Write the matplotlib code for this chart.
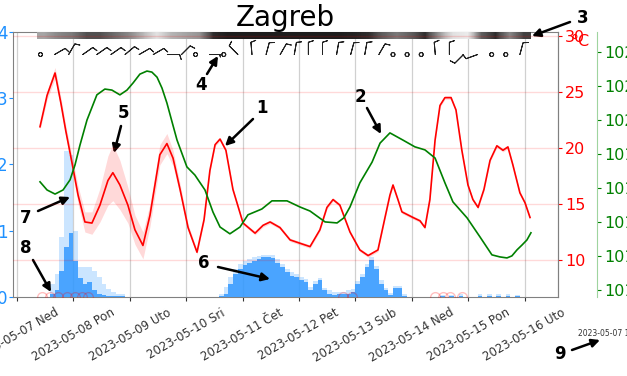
import numpy as np
import matplotlib
matplotlib.use("Agg")
import matplotlib.pyplot as plt
import matplotlib.dates as mdates

# all times are hours after 2023-05-07 00:00
START = mdates.date2num(np.datetime64("2023-05-07T00:00"))

day_labels = ["2023-05-07 Ned", "2023-05-08 Pon", "2023-05-09 Uto", "2023-05-10 Sri",
              "2023-05-11 Čet", "2023-05-12 Pet", "2023-05-13 Sub", "2023-05-14 Ned",
              "2023-05-15 Pon", "2023-05-16 Uto"]

temp_hours = [9.8, 12.8, 16.2, 18.7, 20.8, 23.4, 26.0, 28.9, 31.9, 35.3, 38.7, 40.8, 43.8,
              47.2, 50.2, 53.6, 56.6, 58.7, 60.8, 63.8, 66.4, 69.4, 72.8, 76.6, 79.6, 82.1,
              84.3, 86.4, 88.9, 91.9, 96.2, 101.3, 104.7, 107.7, 111.9, 116.2, 120.4, 124.7,
              128.9, 131.9, 134.5, 137.4, 141.7, 145.9, 149.4, 153.6, 156.6, 158.7, 160.0,
              162.1, 163.8, 168.5, 171.5, 173.6, 175.7, 177.9, 180.0, 182.1, 184.7, 186.8,
              189.3, 191.9, 194.0, 196.2, 198.7, 201.3, 204.2, 206.8, 208.9, 211.0, 214.0,
              216.2, 218.3]
temp_values = [21.9, 24.7, 26.7, 24.0, 21.5, 18.7, 15.8, 13.4, 13.3, 14.9, 17.1, 17.8, 16.7,
               14.9, 12.7, 11.3, 14.0, 16.7, 19.4, 20.4, 19.1, 16.3, 12.9, 10.7, 13.6, 18.0,
               20.3, 20.8, 19.8, 16.3, 13.3, 12.4, 13.1, 13.4, 12.9, 11.8, 11.5, 11.2,
               12.7, 14.7, 15.4, 14.9, 12.5, 10.9, 10.4, 10.9, 13.8, 15.8, 16.7,
               15.4, 14.3, 13.8, 13.5, 12.9, 15.4, 20.7, 23.8, 24.5, 24.5, 23.4,
               19.8, 16.7, 15.4, 14.7, 16.3, 18.9, 20.2, 19.8, 20.1, 18.5, 16.0,
               15.1, 13.8]
temp_spread = [0.3, 0.4, 0.5, 0.5, 0.5, 0.6, 0.8, 0.9, 1.0, 1.5, 2.2, 2.5, 2.2,
               1.6, 1.3, 1.2, 1.0, 0.9, 0.9, 0.9, 0.7, 0.5, 0.3, 0.2, 0.2, 0.15,
               0.15, 0.15, 0.15, 0.15, 0.15, 0.15, 0.15, 0.15, 0.15, 0.15, 0.15, 0.15,
               0.15, 0.15, 0.15, 0.15, 0.15, 0.15, 0.15, 0.15, 0.15, 0.15, 0.15,
               0.15, 0.15, 0.15, 0.15, 0.15, 0.15, 0.15, 0.15, 0.15, 0.15, 0.15,
               0.15, 0.15, 0.15, 0.15, 0.15, 0.15, 0.15, 0.15, 0.15, 0.15, 0.15,
               0.15, 0.15]

pres_hours = [9.8, 12.8, 16.2, 19.6, 22.6, 24.7, 26.8, 29.8, 34.0, 37.4, 40.4, 43.8, 46.8,
              49.4, 52.3, 55.3, 57.4, 59.6, 61.7, 63.8, 66.0, 68.1, 72.3, 75.7, 80.0, 83.4,
              86.4, 90.6, 94.9, 98.3, 104.2, 108.5, 114.9, 120.4, 124.7, 131.1, 136.2,
              139.1, 141.7, 145.9, 151.1, 154.5, 158.7, 164.2, 169.3, 173.6, 177.9, 182.1,
              185.5, 191.5, 197.0, 202.1, 205.5, 208.5, 210.6, 212.8, 214.9, 217.0, 218.7]
pres_values = [1018.18, 1017.94, 1017.82, 1017.94, 1018.24, 1018.68, 1019.26, 1020.00,
               1020.74, 1020.91, 1020.88, 1020.74, 1020.88, 1021.09, 1021.35, 1021.44,
               1021.41, 1021.26, 1020.94, 1020.50, 1019.94, 1019.41, 1018.62, 1018.38,
               1017.94, 1017.29, 1016.85, 1016.65, 1016.85, 1017.21, 1017.38, 1017.62,
               1017.62, 1017.44, 1017.32, 1017.00, 1016.97, 1017.12, 1017.44, 1018.15,
               1018.76, 1019.32, 1019.62, 1019.41, 1019.21, 1019.12, 1018.88, 1018.15,
               1017.59, 1017.12, 1016.56, 1016.03, 1015.97, 1015.94, 1016.00, 1016.18,
               1016.32, 1016.47, 1016.68]

rain_hours = [15, 17, 19, 21, 23, 25, 27, 29, 31, 33, 35, 37, 39, 41, 43, 45,
              87, 89, 91, 93, 95, 97, 99, 101, 103, 105, 107, 109, 111, 113, 115, 117,
              119, 121, 123, 125, 127, 129, 131, 133, 135, 137, 139, 141, 143, 145, 147,
              149, 151, 153, 155, 157, 159, 161, 163, 165,
              181, 185, 189, 197, 201, 205, 209, 213]
rain_mean = [0.05, 0.1, 0.4, 0.75, 0.97, 0.55, 0.28, 0.2, 0.22, 0.1, 0.05, 0.03, 0.02, 0.02, 0.01, 0.01,
             0.02, 0.05, 0.2, 0.35, 0.42, 0.48, 0.52, 0.55, 0.57, 0.6, 0.6, 0.59, 0.52, 0.45, 0.38, 0.32,
             0.3, 0.25, 0.22, 0.1, 0.2, 0.25, 0.1, 0.05, 0.03, 0.05, 0.04, 0.05, 0.08, 0.2, 0.3,
             0.45, 0.56, 0.42, 0.2, 0.1, 0.03, 0.14, 0.14, 0.02,
             0.01, 0.01, 0.01, 0.01, 0.01, 0.01, 0.01, 0.01]
rain_max = [0.2, 0.35, 0.9, 2.2, 2.15, 1.0, 0.45, 0.45, 0.45, 0.4, 0.3, 0.2, 0.12, 0.08, 0.05, 0.04,
            0.05, 0.15, 0.3, 0.42, 0.5, 0.55, 0.58, 0.6, 0.62, 0.64, 0.64, 0.63, 0.57, 0.5, 0.43, 0.37,
            0.34, 0.3, 0.27, 0.15, 0.24, 0.28, 0.14, 0.1, 0.08, 0.08, 0.08, 0.1, 0.12, 0.24, 0.35,
            0.5, 0.6, 0.47, 0.25, 0.14, 0.06, 0.16, 0.16, 0.05,
            0.03, 0.03, 0.04, 0.04, 0.05, 0.04, 0.04, 0.03]

snow_hours = [10.6, 14.0, 17.4, 21.3, 24.7, 27.7, 30.2, 138.7, 142.5, 177.9, 181.3, 184.2, 189.3]

cloud_hours = np.arange(11.5, 216, 6)
cloud_cover = [0.45, 0.55, 0.6, 0.75, 0.75, 0.65, 0.55, 0.4, 0.2, 0.4, 0.45, 0.5,
               0.85, 0.9, 0.9, 0.9, 0.9, 0.9, 0.9, 0.9, 0.9, 0.9, 0.88, 0.85,
               0.7, 0.6, 0.7, 0.85, 0.5, 0.2, 0.15, 0.7, 0.85, 0.55, 0.8]

wind_hours = np.arange(10, 215, 6)
wind_dir = [0, 60, 30, 55, 55, 55, 50, 60, 60, 90, 45, 0, 90, 0, 315, 355, 15, 30,
            10, 0, 0, 10, 15, 10, 30, 0, 0, 0, 355, 0, 225, 250, 0, 0, 15]
wind_speed = [0, 10, 10, 10, 10, 10, 10, 10, 10, 10, 10, 0, 5, 0, 10, 10, 10, 10,
              10, 10, 10, 10, 10, 10, 10, 0, 0, 0, 10, 10, 10, 10, 0, 0, 10]


def hx(hours):
    return START + np.asarray(hours, dtype=float) / 24.0


fig = plt.figure(figsize=(6.27, 3.76), dpi=100)
ax = fig.add_axes([0.0207, 0.2101, 0.8692, 0.7048])
ax_t = ax.twinx()
ax_pr = ax.twinx()

# precipitation (left axis)
ax.bar(hx(rain_hours), rain_max, width=2 / 24, color="#3399ff", alpha=0.25, lw=0, zorder=2)
ax.bar(hx(rain_hours), rain_mean, width=2 / 24, color="#3399ff", alpha=0.85, lw=0, zorder=3)
ax.plot(hx(snow_hours), np.zeros(len(snow_hours)), "o", ms=7, mfc="none", mec="red",
        alpha=0.25, zorder=4)

# cloud cover strip and wind barbs along the top
ax.imshow(np.array(cloud_cover)[None, :], aspect="auto", cmap="Greys", vmin=0, vmax=1,
          interpolation="bilinear", zorder=5,
          extent=(float(hx(cloud_hours[0] - 3)), float(hx(cloud_hours[-1] + 3)), 3.894, 4.0))
wd = np.radians(wind_dir)
spd = np.array(wind_speed, dtype=float)
ax.barbs(hx(wind_hours), np.full(len(wind_hours), 3.66), -spd * np.sin(wd), -spd * np.cos(wd),
         length=4.2, pivot="tip", color="#222222", linewidth=0.7,
         sizes=dict(emptybarb=0.16), zorder=6)

# temperature
t = np.array(temp_values)
s = np.array(temp_spread)
ax_t.fill_between(hx(temp_hours), t - s, t + s, color="red", alpha=0.15, lw=0)
ax_t.plot(hx(temp_hours), t, color="red", lw=1.2)

# pressure
ax_pr.plot(hx(pres_hours), pres_values, color="green", lw=1.2)

ax.set_xlim(hx(-1.7), hx(230.2))
ax.set_ylim(0, 4)
ax_t.set_ylim(6.70, 30.36)
ax_pr.set_ylim(1014.79, 1022.59)

ax.set_xticks(hx(np.arange(len(day_labels)) * 24))
ax.set_xticklabels(day_labels, rotation=30)
ax.tick_params(axis="x", colors="#333333", labelsize=8.5, length=3)
ax.set_yticks([0, 1, 2, 3, 4])
ax.tick_params(axis="y", colors="dodgerblue", labelsize=12, length=3, pad=1)
ax_t.set_yticks([10, 15, 20, 25, 30])
ax_t.tick_params(axis="y", colors="red", labelsize=11.5, length=3, pad=2)
ax_pr.set_yticks(range(1015, 1023))
ax_pr.tick_params(axis="y", colors="green", labelsize=11.5, length=3, pad=2)

for sp in ax.spines.values():
    sp.set_color("gray")
for name in ["left", "top", "bottom"]:
    ax_t.spines[name].set_visible(False)
    ax_pr.spines[name].set_visible(False)
ax_t.spines["right"].set_color("gray")
ax_pr.spines["right"].set_position(("axes", 1.0716))
ax_pr.spines["right"].set_color("#9fd49f")

ax.grid(axis="x", color="#d0d0d0", lw=0.9)
ax.set_axisbelow(True)
ax_t.grid(axis="y", color="red", alpha=0.15, lw=1)

ax.set_title("Zagreb", fontsize=20, pad=4)
ax_t.annotate("°C", xy=(1, 1), xycoords="axes fraction", xytext=(9, -7),
              textcoords="offset points", color="red", fontsize=11.5, ha="left", va="center")
fig.text(578 / 627, 1 - 333 / 376, "2023-05-07 11 UTC", fontsize=5.5, color="#333333",
         va="center", ha="left")

# numbered call-outs: label, text centre, arrow tail, arrow head (pixels from top-left)
notes = [("1", (262, 108), (253, 119), (225, 146)),
         ("2", (360, 97), (367, 108), (381, 134)),
         ("3", (583, 18), (570, 22), (532, 36)),
         ("4", (201, 85), (207, 74), (218, 56)),
         ("5", (124, 113), (121, 126), (114, 153)),
         ("6", (204, 263), (218, 267), (270, 279)),
         ("7", (26, 218), (38, 211), (70, 197)),
         ("8", (26, 248), (33, 260), (51, 292)),
         ("9", (560, 354), (572, 350), (600, 340))]
H = 376
for label, (tx, ty), (ax0, ay0), (ax1, ay1) in notes:
    fig.text(tx / 627, 1 - ty / H, label, fontsize=12, weight="bold", ha="center", va="center")
    ax.annotate("", xy=(ax1, H - ay1), xycoords="figure pixels",
                xytext=(ax0, H - ay0), textcoords="figure pixels",
                arrowprops=dict(arrowstyle="-|>", color="black", lw=1.8, mutation_scale=12,
                                shrinkA=0, shrinkB=0),
                annotation_clip=False)

fig.savefig("out.png", dpi=100)
